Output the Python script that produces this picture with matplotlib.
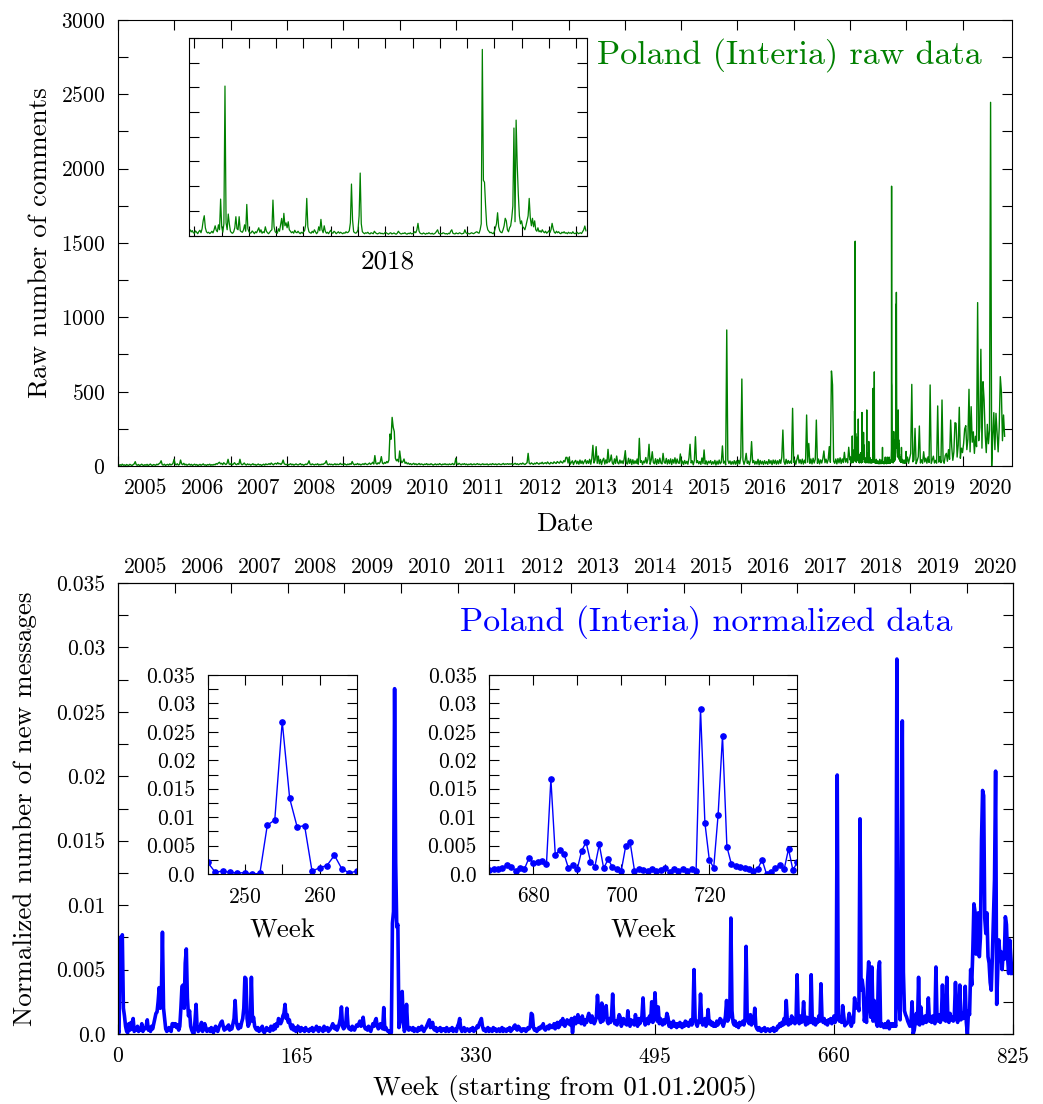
import numpy as np
import matplotlib
matplotlib.use('Agg')
import matplotlib.pyplot as plt
import matplotlib.dates as mdates
from matplotlib.ticker import MultipleLocator, FixedLocator, FixedFormatter, NullFormatter, FuncFormatter

plt.rcParams['font.family'] = 'cmr10'
plt.rcParams['mathtext.fontset'] = 'cm'
plt.rcParams['axes.formatter.use_mathtext'] = True

# raw comments, one value per week from 01.01.2005 to end of 2017 (rows = years)
raw_weekly_0517 = [
    6, 3, 9, 4, 12, 5, 8, 2, 10, 6, 4, 11, 7, 3, 9, 14, 29, 8, 5, 10, 3, 7, 12, 6, 4, 9, 5, 11, 3, 8, 13, 6, 4, 10, 7, 5, 12, 8, 15, 20, 35, 9, 6, 12, 4, 8, 11, 5, 14, 7, 10, 18,
    45, 12, 8, 15, 6, 10, 40, 14, 9, 18, 7, 12, 5, 9, 13, 6, 11, 4, 8, 12, 6, 10, 3, 7, 11, 5, 9, 14, 6, 8, 4, 10, 7, 12, 5, 9, 6, 11, 8, 16, 12, 20, 25, 14, 18, 9, 22, 15, 10, 17, 45, 13,
    10, 18, 8, 14, 22, 12, 9, 16, 11, 45, 15, 8, 13, 20, 10, 7, 14, 9, 12, 6, 10, 15, 8, 11, 5, 9, 13, 7, 10, 4, 8, 12, 6, 14, 9, 11, 16, 10, 20, 13, 8, 15, 18, 12, 22, 14, 17, 10, 19, 40, 15, 11,
    9, 13, 7, 11, 15, 8, 12, 6, 10, 14, 9, 7, 12, 16, 8, 11, 5, 9, 13, 10, 18, 35, 12, 8, 14, 10, 7, 12, 9, 15, 6, 11, 8, 13, 10, 16, 20, 35, 11, 8, 14, 9, 12, 7, 10, 15, 8, 13, 9, 11, 18, 10,
    12, 8, 15, 10, 7, 13, 9, 16, 11, 30, 14, 8, 12, 10, 17, 9, 13, 7, 11, 15, 10, 18, 12, 9, 14, 20, 11, 16, 25, 13, 70, 18, 12, 22, 15, 28, 63, 20, 14, 24, 18, 30, 22, 40, 215, 180, 327, 260, 231, 52, 35, 45,
    28, 101, 40, 22, 30, 47, 18, 25, 14, 20, 11, 16, 9, 13, 18, 10, 15, 8, 12, 17, 9, 14, 11, 7, 13, 10, 16, 8, 12, 9, 15, 11, 6, 10, 14, 8, 12, 9, 16, 11, 7, 13, 10, 15, 9, 12, 8, 14, 10, 11, 17, 9,
    13, 52, 15, 10, 18, 12, 8, 14, 11, 16, 9, 13, 7, 12, 10, 15, 8, 11, 14, 9, 12, 16, 10, 13, 8, 11, 15, 9, 12, 10, 14, 7, 11, 13, 9, 16, 12, 10, 14, 8, 12, 15, 11, 9, 13, 17, 10, 14, 12, 16, 11, 15,
    12, 16, 10, 14, 18, 11, 15, 9, 13, 17, 12, 20, 14, 10, 16, 22, 85, 18, 13, 21, 15, 11, 19, 14, 23, 17, 12, 20, 16, 25, 14, 19, 22, 15, 27, 18, 13, 24, 20, 16, 28, 21, 17, 30, 23, 19, 33, 25, 20, 36, 28, 58,
    58, 20, 58, 12, 24, 35, 10, 28, 38, 15, 32, 12, 40, 17, 34, 14, 30, 42, 16, 35, 18, 45, 12, 50, 139, 20, 40, 130, 18, 67, 15, 44, 10, 38, 52, 13, 41, 19, 112, 26, 36, 74, 20, 11, 48, 17, 67, 22, 14, 40, 19, 35,
    16, 48, 103, 20, 13, 52, 18, 45, 10, 42, 15, 35, 17, 47, 12, 186, 24, 36, 10, 33, 21, 57, 18, 46, 146, 12, 39, 96, 23, 15, 49, 11, 44, 17, 53, 20, 14, 85, 26, 18, 51, 13, 42, 16, 48, 10, 44, 19, 55, 15, 47, 21,
    18, 81, 14, 33, 10, 37, 16, 31, 12, 55, 146, 20, 35, 8, 38, 197, 22, 36, 15, 30, 11, 54, 17, 108, 13, 34, 9, 32, 20, 36, 11, 29, 14, 38, 7, 33, 12, 40, 15, 26, 135, 19, 32, 8, 915, 40, 17, 34, 11, 30, 13, 36,
    12, 34, 10, 38, 15, 60, 585, 40, 11, 36, 85, 18, 33, 9, 39, 164, 22, 37, 12, 31, 13, 45, 8, 37, 14, 32, 10, 36, 15, 30, 11, 43, 17, 36, 9, 40, 16, 39, 12, 35, 14, 42, 18, 60, 242, 30, 11, 45, 16, 37, 18, 33,
    18, 388, 25, 40, 12, 45, 74, 20, 42, 15, 46, 13, 39, 20, 343, 25, 152, 18, 47, 14, 52, 20, 45, 309, 18, 47, 14, 41, 20, 49, 101, 22, 46, 19, 43, 130, 25, 639, 545, 32, 18, 47, 14, 50, 21, 55, 17, 48, 23, 92, 26, 49,
    21, 126, 44,
]

# raw comments per day in 2018 (also shown in the inset)
raw_daily_2018 = [
    45, 60, 38, 52, 30, 25, 48, 35, 20, 42, 55, 30, 70, 150, 202, 80, 40, 28, 35, 22, 30, 45, 28, 60, 100,
    55, 40, 110, 60, 370, 90, 35, 120, 1512, 130, 60, 219, 120, 45, 30, 25, 40, 80, 192, 70, 60, 192, 50, 40, 35,
    60, 110, 45, 316, 70, 40, 25, 30, 48, 35, 20, 40, 30, 55, 80, 35, 60, 25, 40, 30, 90, 45, 30, 20, 35,
    50, 60, 360, 90, 40, 30, 25, 70, 45, 110, 175, 60, 226, 100, 130, 80, 141, 60, 45, 30, 40, 25, 55, 35, 30,
    45, 30, 20, 35, 25, 40, 50, 110, 377, 90, 40, 30, 25, 45, 30, 60, 40, 20, 35, 90, 50, 165, 60, 30, 100,
    45, 25, 35, 20, 40, 55, 30, 25, 45, 35, 20, 30, 40, 25, 35, 28, 20, 30, 25, 40, 30, 35, 50, 130, 522,
    160, 40, 30, 25, 35, 60, 200, 633, 120, 40, 28, 20, 30, 25, 35, 22, 18, 30, 25, 20, 45, 30, 22, 18, 25,
    30, 20, 25, 18, 22, 35, 28, 20, 15, 25, 30, 18, 22, 28, 20, 15, 25, 45, 30, 20, 18, 25, 22, 30, 20,
    15, 25, 20, 30, 18, 22, 25, 40, 30, 60, 125, 45, 25, 20, 18, 28, 22, 15, 25, 20, 30, 22, 18, 25, 15,
    20, 28, 45, 60, 25, 18, 22, 20, 30, 25, 18, 22, 15, 25, 20, 45, 60, 25, 20, 18, 28, 22, 20, 30, 25,
    18, 22, 25, 60, 30, 20, 25, 18, 22, 30, 25, 20, 28, 35, 40, 30, 25, 60, 120, 1882, 560, 540, 300, 110, 60,
    45, 30, 35, 25, 20, 40, 80, 120, 232, 90, 50, 35, 30, 60, 100, 176, 150, 60, 40, 80, 100, 180, 300, 1088, 141,
    1168, 720, 420, 200, 120, 150, 90, 80, 60, 100, 150, 200, 377, 180, 100, 176, 90, 150, 60, 45, 80, 40, 50, 35, 60,
    40, 30, 45, 25, 35, 50, 30, 60, 125, 70, 35, 25, 45, 30, 40, 25, 20, 35, 28, 40, 25, 30, 20, 35, 25,
    30, 22, 40, 25, 20, 28, 35, 20, 25, 30, 22, 40, 60, 98, 50,
]

# raw comments, one value per week from 01.01.2019
raw_weekly_1920 = [
    25, 60, 18, 52, 85, 549, 28, 40, 253, 15, 36, 62, 269, 20, 42, 18, 96, 27, 53, 19, 61, 24, 545, 17, 41, 66,
    20, 38, 19, 404, 26, 63, 22, 444, 35, 18, 70, 85, 32, 110, 45, 309, 130, 38, 95, 291, 287, 60, 140, 395, 52, 120,
    90, 150, 249, 271, 110, 180, 516, 95, 399, 160, 230, 85, 200, 130, 1099, 170, 260, 785, 120, 567, 444, 210, 90, 280, 150, 240,
    2446, 0, 190, 359, 110, 354, 220, 95, 260, 601, 500, 170, 343, 200,
]

# normalized number of new messages per week (in units of 1e-4), weeks 0..824
norm_weekly = [
    3, 1, 75, 55, 77, 20, 14, 6, 2, 1, 8, 3, 9, 4, 12, 2, 4, 3, 6, 2, 4, 3, 8, 2, 5,
    4, 6, 11, 3, 5, 2, 6, 4, 8, 12, 16, 17, 25, 36, 20, 30, 79, 20, 12, 4, 2, 3, 5, 3, 2,
    8, 8, 6, 8, 5, 7, 3, 6, 20, 37, 38, 20, 55, 66, 28, 14, 18, 6, 3, 1, 0, 10, 23, 4, 2,
    3, 6, 9, 2, 4, 8, 5, 2, 3, 4, 2, 5, 3, 1, 4, 6, 3, 2, 5, 7, 9, 10, 6, 3, 5,
    4, 6, 7, 3, 5, 4, 8, 12, 26, 10, 6, 4, 7, 5, 9, 12, 20, 44, 43, 12, 6, 8, 12, 44, 10,
    13, 6, 4, 3, 5, 2, 3, 4, 6, 2, 1, 3, 5, 3, 4, 2, 6, 5, 3, 7, 4, 8, 6, 12, 9,
    8, 10, 14, 16, 23, 12, 15, 9, 11, 6, 4, 7, 3, 5, 2, 4, 6, 3, 2, 5, 3, 4, 2, 5, 3,
    3, 2, 4, 3, 5, 2, 3, 4, 6, 3, 2, 5, 4, 3, 2, 6, 3, 4, 5, 2, 3, 4, 6, 8, 5,
    4, 6, 3, 5, 8, 12, 21, 6, 4, 5, 8, 20, 7, 4, 5, 3, 6, 4, 3, 5, 7, 6, 8, 10, 6,
    8, 13, 6, 4, 5, 3, 6, 4, 2, 5, 8, 6, 10, 12, 6, 4, 5, 8, 6, 4, 20.5, 3.5, 5, 3, 2,
    2.3, 0, 1, 86, 95, 268, 133, 83, 85, 5, 11, 15, 33, 9, 2, 5, 23, 6, 3, 5, 4, 3, 5, 2, 4,
    3, 2, 5, 3, 4, 6, 3, 2, 4, 5, 7, 9, 11, 5, 6, 9, 4, 3, 5, 2, 4, 3, 5, 2, 4,
    3, 4, 2, 5, 3, 2, 4, 3, 5, 2, 3, 4, 2, 6, 8, 12, 4, 2, 3, 5, 2, 3, 4, 3, 2,
    4, 3, 5, 2, 3, 4, 6, 5, 8, 10, 12, 6, 3, 4, 2, 3, 5, 2, 4, 3, 2, 5, 3, 4, 2,
    3, 4, 2, 3, 5, 2, 4, 3, 2, 4, 3, 5, 2, 3, 4, 6, 7, 4, 3, 6, 5, 3, 2, 4, 3,
    4, 2, 3, 5, 4, 6, 16, 15, 5, 3, 4, 2, 3, 5, 4, 6, 5, 8, 4, 3, 5, 6, 4, 7, 5,
    6, 5, 8, 4, 7, 9, 5, 6, 10, 8, 12, 7, 6, 9, 11, 8, 10, 7, 12, 1, 9, 13, 8, 10, 15,
    9, 12, 8, 14, 10, 7, 11, 9, 13, 16, 12, 9, 14, 11, 8, 10, 13, 30, 18, 12, 9, 24, 10, 14, 16,
    22, 10, 8, 12, 9, 14, 31, 12, 8, 10, 7, 11, 15, 13, 6, 9, 12, 8, 10, 7, 18, 9, 6, 11, 8,
    10, 7, 15, 9, 6, 12, 8, 10, 14, 28, 11, 7, 9, 12, 8, 14, 10, 25, 9, 12, 32, 15, 10, 21, 8,
    12, 9, 7, 11, 8, 10, 16, 13, 6, 9, 5, 7, 10, 6, 8, 5, 8, 6, 9, 7, 5, 8, 6, 10, 7,
    9, 6, 8, 11, 7, 13, 50, 12, 8, 6, 10, 9, 31, 11, 7, 8, 12, 6, 9, 19, 8, 10, 7, 9, 6,
    8, 6, 10, 7, 9, 12, 11, 8, 6, 9, 14, 26, 10, 12, 15, 90, 18, 9, 7, 10, 6, 8, 5, 9, 7,
    8, 10, 7, 12, 68, 14, 9, 8, 15, 7, 10, 9, 20, 6, 4, 3, 5, 3, 2, 4, 3, 5, 2, 3, 4,
    3, 2, 4, 3, 5, 2, 4, 3, 6, 5, 8, 6, 9, 7, 12, 8, 26, 10, 7, 11, 8, 14, 9, 12, 8,
    10, 46, 12, 8, 14, 9, 11, 25, 10, 7, 13, 8, 12, 9, 46, 10, 8, 12, 7, 11, 9, 14, 10, 39, 12,
    9, 12, 8, 10, 7, 11, 9, 12, 8, 10, 14, 9, 12, 201, 15, 10, 12, 9, 22, 14, 6.4, 8, 8, 10, 16,
    13, 6, 10, 9, 28, 20, 21, 23, 18, 167, 34, 42, 35, 10, 16, 9, 41, 56, 22, 13, 52, 10, 26, 12, 9,
    6, 49, 56, 6, 8, 7, 5, 8, 5, 7, 10, 4, 8, 6, 8, 6, 8, 6, 291, 90, 25, 11, 104, 243, 48,
    18, 15, 13, 10, 8, 6, 9, 25, 0, 3, 10, 16, 8, 44, 7, 21, 12, 8, 10, 14, 9, 12, 28, 10, 13,
    9, 14, 11, 8, 52, 12, 10, 15, 9, 13, 38, 11, 14, 10, 44, 12, 9, 16, 11, 13, 10, 15, 40, 12, 9,
    14, 38, 11, 16, 12, 13, 37, 9, 0, 18, 15, 50, 38, 65, 101, 95, 62, 80, 94, 60, 75, 150, 189, 185, 90,
    78, 94, 60, 55, 40, 34, 60, 90, 120, 204, 23, 50, 73, 60, 64, 50, 63, 58, 91, 85, 60, 47, 73, 60, 47,
]

years = list(range(2005, 2021))
inset_weeks_a = (245, 265)
inset_weeks_b = (670, 740)

# dates for the raw series
raw_dates = np.concatenate([
    np.datetime64('2005-01-01') + 7 * np.arange(len(raw_weekly_0517)),
    np.datetime64('2018-01-01') + np.arange(len(raw_daily_2018)),
    np.datetime64('2019-01-01') + 7 * np.arange(len(raw_weekly_1920)),
])
raw_values = np.array(raw_weekly_0517 + raw_daily_2018 + raw_weekly_1920, dtype=float)

weeks = np.arange(len(norm_weekly))
norm = np.array(norm_weekly) * 1e-4

TICK = 15.5
LAB = 19.5
TITLE = 24.5
TL = 7


def norm_fmt(v, pos):
    return '0.0' if abs(v) < 1e-12 else f'{v:g}'


def style_ticks(ax):
    ax.tick_params(which='both', direction='in', top=True, right=True,
                   length=TL, width=0.8, labelsize=TICK, pad=9)


fig = plt.figure(figsize=(10.43, 11.04), dpi=100)

# ---- top panel: raw data
ax1 = fig.add_axes([0.1131, 0.5779, 0.8569, 0.4040])
ax1.plot(raw_dates, raw_values, color='green', lw=1.0)
ax1.set_xlim(np.datetime64('2005-01-01'), np.datetime64('2020-11-14'))
ax1.set_ylim(0, 3000)
ax1.xaxis.set_major_locator(mdates.YearLocator())
ax1.xaxis.set_major_formatter(NullFormatter())
ax1.xaxis.set_minor_locator(mdates.MonthLocator(bymonth=7))
ax1.xaxis.set_minor_formatter(mdates.DateFormatter('%Y'))
ax1.yaxis.set_major_locator(MultipleLocator(500))
ax1.yaxis.set_minor_locator(MultipleLocator(250))
style_ticks(ax1)
ax1.tick_params(axis='x', which='minor', length=0)
ax1.set_xlabel('Date', fontsize=LAB, labelpad=10)
ax1.set_ylabel('Raw number of comments', fontsize=LAB, labelpad=6)
ax1.text(0.967, 0.921, 'Poland (Interia) raw data', transform=ax1.transAxes,
         ha='right', va='center', fontsize=TITLE, color='green')

# inset: 2018 daily
ins1 = fig.add_axes([0.1812, 0.7865, 0.3816, 0.1793])
ins1.plot(np.arange(len(raw_daily_2018)), raw_daily_2018, color='green', lw=0.9)
ins1.set_xlim(0, 365)
ins1.set_ylim(0, 2000)
ins1.xaxis.set_major_locator(MultipleLocator(25, offset=5))
ins1.yaxis.set_major_locator(MultipleLocator(250))
style_ticks(ins1)
ins1.set_xticklabels([])
ins1.set_yticklabels([])
ins1.set_xlabel('2018', fontsize=LAB, labelpad=1)

# ---- bottom panel: normalized weekly data
ax2 = fig.add_axes([0.1131, 0.0634, 0.8581, 0.4085])
ax2.plot(weeks, norm, color='blue', lw=2.6)
ax2.set_xlim(0, 825)
ax2.set_ylim(0, 0.035)
ax2.xaxis.set_major_locator(MultipleLocator(165))
ax2.yaxis.set_major_locator(MultipleLocator(0.005))
ax2.yaxis.set_minor_locator(MultipleLocator(0.0025))
ax2.yaxis.set_major_formatter(FuncFormatter(norm_fmt))
style_ticks(ax2)
ax2.tick_params(top=False)
ax2.set_xlabel('Week (starting from 01.01.2005)', fontsize=LAB, labelpad=6)
ax2.set_ylabel('Normalized number of new messages', fontsize=LAB, labelpad=14)
ax2.text(0.933, 0.913, 'Poland (Interia) normalized data', transform=ax2.transAxes,
         ha='right', va='center', fontsize=TITLE, color='blue')

# year axis on top of the weekly panel
start = np.datetime64('2005-01-01')
year_starts = [(np.datetime64(f'{y}-01-01') - start).astype(int) / 7 for y in years[1:]]
year_mids = [(np.datetime64(f'{y}-07-01') - start).astype(int) / 7 for y in years]
ax2t = ax2.twiny()
ax2t.set_xlim(0, 825)
ax2t.xaxis.set_major_locator(FixedLocator(year_starts))
ax2t.xaxis.set_major_formatter(NullFormatter())
ax2t.xaxis.set_minor_locator(FixedLocator(year_mids))
ax2t.xaxis.set_minor_formatter(FixedFormatter([str(y) for y in years]))
ax2t.tick_params(which='major', direction='in', length=TL, width=0.8)
ax2t.tick_params(which='minor', length=0, labelsize=TICK, pad=4)

# insets with weekly points
for rect, (w0, w1), step in [([0.1991, 0.2083, 0.1429, 0.1803], inset_weeks_a, 10),
                             ([0.4691, 0.2083, 0.2953, 0.1803], inset_weeks_b, 20)]:
    ins = fig.add_axes(rect)
    sel = slice(w0, w1 + 1)
    ins.plot(weeks[sel], norm[sel], '-o', color='blue', lw=1.0, ms=3.8)
    ins.set_xlim(w0, w1 - 0.01)
    ins.set_ylim(0, 0.035)
    ins.xaxis.set_major_locator(MultipleLocator(step))
    ins.xaxis.set_minor_locator(MultipleLocator(step / 2))
    ins.yaxis.set_major_locator(MultipleLocator(0.005))
    ins.yaxis.set_minor_locator(MultipleLocator(0.0025))
    ins.yaxis.set_major_formatter(FuncFormatter(norm_fmt))
    style_ticks(ins)
    ins.set_xlabel('Week', fontsize=LAB, labelpad=9)

fig.savefig('out.png', dpi=100)
